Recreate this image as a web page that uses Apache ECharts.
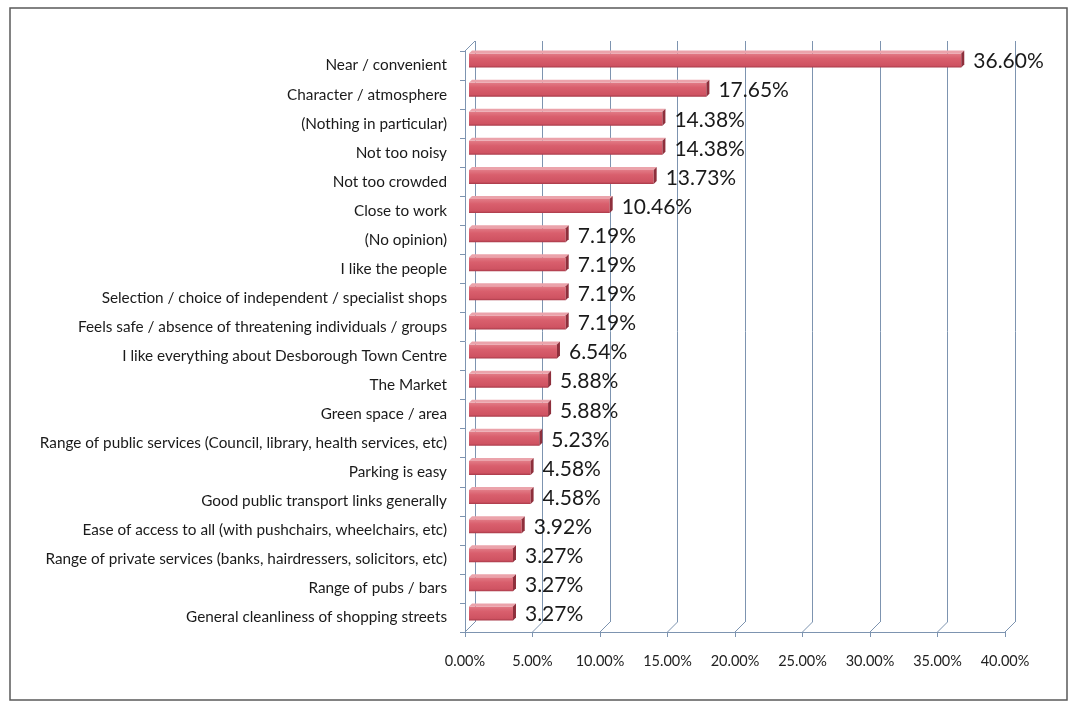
<!DOCTYPE html>
<html>
<head>
<meta charset="utf-8">
<script src="https://cdn.jsdelivr.net/npm/echarts@6/dist/echarts.min.js"></script>
<style>
html,body{margin:0;padding:0;background:#fff;}
#c{width:1069px;height:702px;}
</style>
</head>
<body>
<div id="c"></div>
<script>
const categories = [
  "Near / convenient",
  "Character / atmosphere",
  "(Nothing in particular)",
  "Not too noisy",
  "Not too crowded",
  "Close to work",
  "(No opinion)",
  "I like the people",
  "Selection / choice of independent / specialist shops",
  "Feels safe / absence of threatening individuals / groups",
  "I like everything about Desborough Town Centre",
  "The Market",
  "Green space / area",
  "Range of public services (Council, library, health services, etc)",
  "Parking is easy",
  "Good public transport links generally",
  "Ease of access to all (with pushchairs, wheelchairs, etc)",
  "Range of private services (banks, hairdressers, solicitors, etc)",
  "Range of pubs / bars",
  "General cleanliness of shopping streets"
];
const values = [36.60, 17.65, 14.38, 14.38, 13.73, 10.46, 7.19, 7.19, 7.19, 7.19, 6.54, 5.88, 5.88, 5.23, 4.58, 4.58, 3.92, 3.27, 3.27, 3.27];
const xTicks = [0, 5, 10, 15, 20, 25, 30, 35, 40];

const FONT = 'Lato, "Open Sans", sans-serif';
const GRID_COLOR = '#7d94b0';
const DEPTH_X = 10, DEPTH_Y = 10;

const chart = echarts.init(document.getElementById('c'), null, {renderer: 'canvas'});

const option = {
  backgroundColor: '#ffffff',
  animation: false,
  graphic: [{
    type: 'rect', shape: {x: 10, y: 8, width: 1057, height: 692},
    style: {fill: 'none', stroke: '#5a5a5a', lineWidth: 1.5}, silent: true, z: 0
  }],
  grid: [
    {left: 465, right: 64, top: 51, bottom: 70},   // front plane (axes)
    {left: 475, right: 54, top: 41, bottom: 80},   // back wall (gridlines)
    {left: 469, right: 62, top: 46, bottom: 74}    // bars (mid depth)
  ],
  xAxis: [
    {gridIndex: 0, type: 'value', min: 0, max: 40, interval: 5,
      axisLine: {show: true, lineStyle: {color: GRID_COLOR, width: 1}},
      axisTick: {show: true, length: 5, lineStyle: {color: GRID_COLOR}},
      axisLabel: {margin: 22, color: '#222', fontFamily: FONT, fontSize: 14.5,
        formatter: v => v.toFixed(2) + '%'},
      splitLine: {show: false}},
    {gridIndex: 1, type: 'value', min: 0, max: 40, interval: 5,
      axisLine: {show: false}, axisTick: {show: false}, axisLabel: {show: false},
      splitLine: {show: true, lineStyle: {color: GRID_COLOR, width: 1}}},
    {gridIndex: 2, type: 'value', min: 0, max: 40, interval: 5, show: false}
  ],
  yAxis: [
    {gridIndex: 0, type: 'category', inverse: true, data: categories,
      axisLine: {show: true, lineStyle: {color: GRID_COLOR, width: 1}},
      axisTick: {show: true, length: 5, lineStyle: {color: GRID_COLOR}},
      axisLabel: {margin: 18, color: '#1a1a1a', fontFamily: FONT, fontSize: 15.3, padding: [5, 0, 0, 0]},
      splitLine: {show: false}},
    {gridIndex: 1, type: 'category', inverse: true, data: categories, show: false},
    {gridIndex: 2, type: 'category', inverse: true, data: categories, show: false}
  ],
  series: [
    {
      // floor connectors and left wall top edge
      type: 'custom', xAxisIndex: 0, yAxisIndex: 0, silent: true, z: 1,
      data: xTicks.map(v => [v, 0]),
      renderItem: function (params, api) {
        const cs = params.coordSys;
        const xf = api.coord([api.value(0), 0])[0];
        const yb = cs.y + cs.height;
        const children = [{
          type: 'line',
          shape: {x1: xf, y1: yb, x2: xf + DEPTH_X, y2: yb - DEPTH_Y},
          style: {stroke: GRID_COLOR, lineWidth: 1}
        }];
        if (api.value(0) === 0) {
          children.push({
            type: 'line',
            shape: {x1: xf, y1: cs.y, x2: xf + DEPTH_X, y2: cs.y - DEPTH_Y},
            style: {stroke: GRID_COLOR, lineWidth: 1}
          });
        }
        return {type: 'group', children: children};
      }
    },
    {
      type: 'custom', xAxisIndex: 2, yAxisIndex: 2, z: 5,
      data: values.map((v, i) => [v, i]),
      renderItem: function (params, api) {
        const val = api.value(0), idx = api.value(1);
        const p0 = api.coord([0, idx]);
        const p1 = api.coord([val, idx]);
        const h = 14, d = 3;
        const x0 = p0[0], x1 = p1[0], yt = p0[1] - h / 2, yb = p0[1] + h / 2;
        return {
          type: 'group',
          children: [
            {type: 'rect', shape: {x: x0, y: yt, width: x1 - x0, height: h},
              style: {fill: new echarts.graphic.LinearGradient(0, 0, 0, 1, [
                {offset: 0, color: '#e27b86'}, {offset: 0.35, color: '#d95f6d'},
                {offset: 0.85, color: '#cf5362'}, {offset: 1, color: '#a83a49'}])}},
            {type: 'polygon', shape: {points: [[x0, yt], [x0 + d, yt - d], [x1 + d, yt - d], [x1, yt]]},
              style: {fill: '#eba3ab'}},
            {type: 'polygon', shape: {points: [[x1, yt], [x1 + d, yt - d], [x1 + d, yb - d], [x1, yb]]},
              style: {fill: '#8e2f3c'}},
            {type: 'text', x: x1 + d + 9, y: p0[1] + 1,
              style: {text: val.toFixed(2) + '%', fill: '#1a1a1a', fontFamily: FONT, fontSize: 21,
                verticalAlign: 'middle', align: 'left'}}
          ]
        };
      }
    }
  ]
};
chart.setOption(option);
</script>
</body>
</html>
